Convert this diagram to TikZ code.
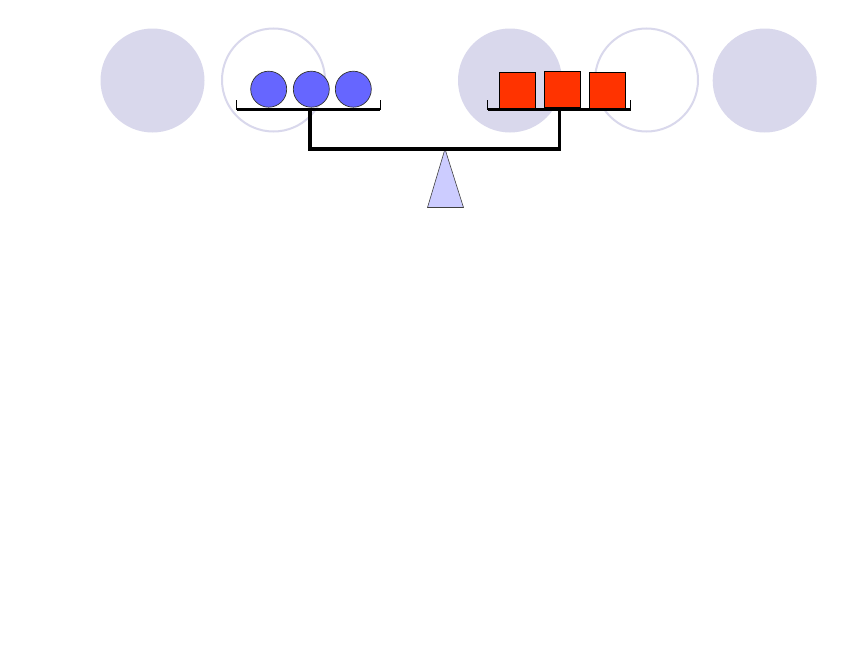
\documentclass[tikz,border=0pt]{standalone}
\begin{document}
\begin{tikzpicture}[x=1pt,y=-1pt,
  bgfill/.style={fill=lav,draw=none},
  bgring/.style={draw=lav,line width=2pt,fill=none},
  ball/.style={circle,draw=black!80,line width=0.7pt,fill=ballblue,minimum size=36pt,inner sep=0pt},
  cube/.style={rectangle,draw=black,line width=0.7pt,fill=cubered,minimum size=36pt,inner sep=0pt},
  bar/.style={line width=3.6pt,black},
  tick/.style={line width=1pt,black},
  fulcrum/.style={draw=black!75,line width=0.6pt,fill=fulcblue}]
\definecolor{lav}{RGB}{217,216,236}
\definecolor{ballblue}{RGB}{102,102,255}
\definecolor{cubered}{RGB}{255,51,0}
\definecolor{fulcblue}{RGB}{204,204,255}
\useasboundingbox[fill=white] (0,0) rectangle (860,645);
% background circles
\fill[bgfill] (152.5,80.5) circle[radius=52];
\draw[bgring] (273.5,80) circle[radius=51.5];
\fill[bgfill] (510,80.5) circle[radius=52];
\draw[bgring] (646.5,80) circle[radius=51.5];
\fill[bgfill] (764.7,80.5) circle[radius=52];
% fulcrum
\coordinate (apex) at (445,149);
\coordinate (bl) at (427.5,207.5);
\coordinate (br) at (463.5,207.5);
\draw[fulcrum] (apex) -- (bl) -- (br) -- cycle;
% beam and stems
\coordinate (lpl) at (236.5,109.5);
\coordinate (lpr) at (380,109.5);
\coordinate (rpl) at (487.5,109.5);
\coordinate (rpr) at (630.5,109.5);
\coordinate (ls) at (310,109.5);
\coordinate (rs) at (559.5,109.5);
\coordinate (lb) at (310,149);
\coordinate (rb) at (559.5,149);
\draw[bar,line cap=rect] (ls) -- (lb) -- (rb) -- (rs);
\draw[bar] (lpl) -- (lpr);
\draw[bar] (rpl) -- (rpr);
\draw[tick] (lpl) -- ++(0,-9.5);
\draw[tick] (lpr) -- ++(0,-9.5);
\draw[tick] (rpl) -- ++(0,-9.5);
\draw[tick] (rpr) -- ++(0,-9.5);
% balls
\node[ball] (b1) at (268.7,89.2) {};
\node[ball] (b2) at (311.3,89.2) {};
\node[ball] (b3) at (353.3,89.2) {};
% cubes
\node[cube] (c1) at (517.5,90) {};
\node[cube] (c2) at (562.5,89.3) {};
\node[cube] (c3) at (607.5,90.2) {};
\end{tikzpicture}
\end{document}
